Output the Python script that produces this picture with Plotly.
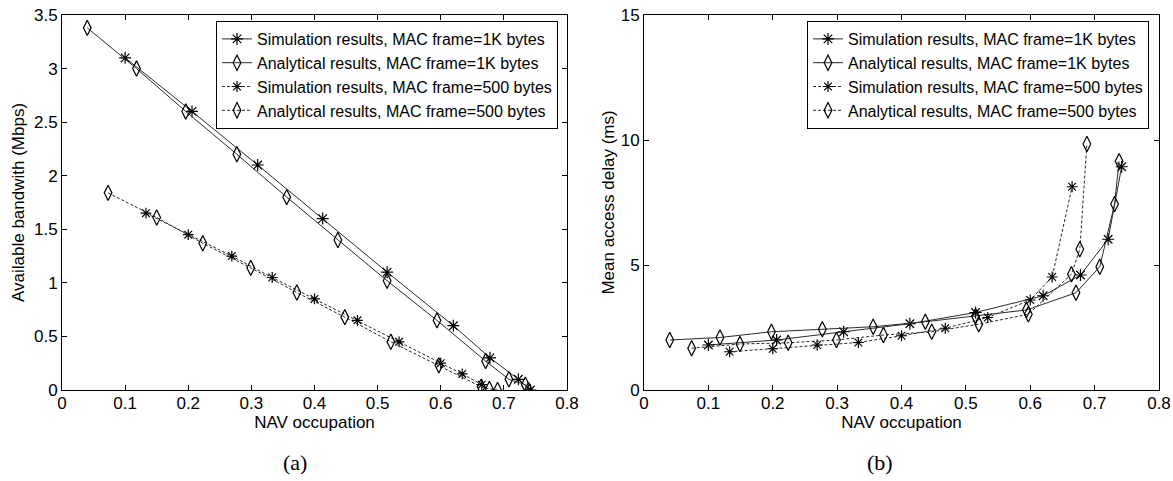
import plotly.graph_objects as go

# ---------------- data: panel (a) available bandwidth ----------------
a_sim1k_x = [0.10, 0.206, 0.31, 0.413, 0.515, 0.62, 0.678, 0.723, 0.742]
a_sim1k_y = [3.10, 2.60, 2.10, 1.60, 1.10, 0.60, 0.30, 0.10, 0.00]
a_ana1k_x = [0.04, 0.118, 0.196, 0.277, 0.356, 0.437, 0.515, 0.594, 0.671, 0.708, 0.734, 0.739]
a_ana1k_y = [3.38, 3.00, 2.60, 2.20, 1.80, 1.40, 1.02, 0.65, 0.27, 0.10, 0.05, 0.00]
a_sim500_x = [0.133, 0.20, 0.269, 0.333, 0.40, 0.468, 0.534, 0.60, 0.634, 0.665]
a_sim500_y = [1.65, 1.45, 1.25, 1.05, 0.85, 0.65, 0.45, 0.25, 0.15, 0.05]
a_ana500_x = [0.073, 0.15, 0.223, 0.299, 0.372, 0.448, 0.521, 0.597, 0.664, 0.677, 0.69]
a_ana500_y = [1.84, 1.61, 1.37, 1.14, 0.91, 0.68, 0.45, 0.23, 0.03, 0.01, 0.00]

# ---------------- data: panel (b) mean access delay ----------------
b_sim1k_x = [0.10, 0.206, 0.31, 0.413, 0.515, 0.62, 0.678, 0.721, 0.742]
b_sim1k_y = [1.80, 2.00, 2.33, 2.65, 3.10, 3.77, 4.60, 6.03, 8.93]
b_ana1k_x = [0.04, 0.118, 0.198, 0.277, 0.356, 0.437, 0.515, 0.594, 0.671, 0.708, 0.731, 0.738]
b_ana1k_y = [2.00, 2.10, 2.33, 2.43, 2.53, 2.73, 2.95, 3.20, 3.89, 4.93, 7.44, 9.15]
b_sim500_x = [0.133, 0.20, 0.269, 0.333, 0.40, 0.468, 0.534, 0.60, 0.634, 0.665]
b_sim500_y = [1.53, 1.65, 1.80, 1.90, 2.17, 2.47, 2.90, 3.60, 4.52, 8.13]
b_ana500_x = [0.074, 0.149, 0.224, 0.299, 0.372, 0.447, 0.52, 0.597, 0.664, 0.677, 0.688]
b_ana500_y = [1.67, 1.84, 1.89, 2.00, 2.20, 2.33, 2.63, 3.03, 4.63, 5.63, 9.84]

names = [
    "Simulation results, MAC frame=1K bytes",
    "Analytical results, MAC frame=1K bytes",
    "Simulation results, MAC frame=500 bytes",
    "Analytical results, MAC frame=500 bytes",
]

x_ticks = [0, 0.1, 0.2, 0.3, 0.4, 0.5, 0.6, 0.7, 0.8]
x_ticktext = ["0", "0.1", "0.2", "0.3", "0.4", "0.5", "0.6", "0.7", "0.8"]
a_yticks = [0, 0.5, 1, 1.5, 2, 2.5, 3, 3.5]
a_yticktext = ["0", "0.5", "1", "1.5", "2", "2.5", "3", "3.5"]
b_yticks = [0, 5, 10, 15]
b_yticktext = ["0", "5", "10", "15"]

FONT = "Liberation Sans, Arial, sans-serif"
LINE = "#2a2a2a"

fig = go.Figure()

styles = [
    dict(dash="solid", symbol="asterisk-open", size=10),
    dict(dash="solid", symbol="diamond-tall-open", size=11),
    dict(dash="3px,2px", symbol="asterisk-open", size=9),
    dict(dash="3px,2px", symbol="diamond-tall-open", size=11),
]

panel_a = [(a_sim1k_x, a_sim1k_y), (a_ana1k_x, a_ana1k_y), (a_sim500_x, a_sim500_y), (a_ana500_x, a_ana500_y)]
panel_b = [(b_sim1k_x, b_sim1k_y), (b_ana1k_x, b_ana1k_y), (b_sim500_x, b_sim500_y), (b_ana500_x, b_ana500_y)]

for i, (xs, ys) in enumerate(panel_a):
    st = styles[i]
    fig.add_trace(go.Scatter(
        x=xs, y=ys, mode="lines+markers", name=names[i],
        xaxis="x", yaxis="y", legend="legend",
        line=dict(color=LINE, width=1, dash=st["dash"]),
        marker=dict(symbol=st["symbol"], size=st["size"], color="black",
                    line=dict(color="black", width=1.2)),
    ))
for i, (xs, ys) in enumerate(panel_b):
    st = styles[i]
    fig.add_trace(go.Scatter(
        x=xs, y=ys, mode="lines+markers", name=names[i],
        xaxis="x2", yaxis="y2", legend="legend2",
        line=dict(color=LINE, width=1, dash=st["dash"]),
        marker=dict(symbol=st["symbol"], size=st["size"], color="black",
                    line=dict(color="black", width=1.2)),
    ))

W, H = 1173, 481
ML, MR, MT, MB = 62, 14, 15, 91
PW = W - ML - MR

axis_common = dict(
    showline=True, linecolor="black", linewidth=1, mirror="ticks",
    ticks="inside", ticklen=5, tickcolor="black", tickwidth=1,
    showgrid=False, zeroline=False,
    tickfont=dict(family=FONT, size=17, color="black"),
    automargin=False,
)
xaxis_extra = dict(ticklabelstandoff=-2)

TITLE_FONT = dict(family=FONT, size=17, color="black")

legend_common = dict(
    bgcolor="white", bordercolor="black", borderwidth=1,
    font=dict(family=FONT, size=16, color="black"),
    xanchor="right", yanchor="top", tracegroupgap=0,
    itemwidth=30,
)

fig.update_layout(
    width=W, height=H,
    template="none",
    paper_bgcolor="white", plot_bgcolor="white",
    margin=dict(l=ML, r=MR, t=MT, b=MB),
    xaxis=dict(axis_common, **xaxis_extra, domain=[0, (567 - ML) / PW], range=[0, 0.8],
               tickvals=x_ticks, ticktext=x_ticktext, anchor="y",
               title=dict(text="NAV occupation", font=TITLE_FONT, standoff=3)),
    yaxis=dict(axis_common, domain=[0, 1], range=[0, 3.5],
               tickvals=a_yticks, ticktext=a_yticktext, anchor="x",
               title=dict(text="Available bandwith (Mbps)", font=TITLE_FONT, standoff=5)),
    xaxis2=dict(axis_common, **xaxis_extra, domain=[(644 - ML) / PW, 1], range=[0, 0.8],
                tickvals=x_ticks, ticktext=x_ticktext, anchor="y2",
                title=dict(text="NAV occupation", font=TITLE_FONT, standoff=3)),
    yaxis2=dict(axis_common, domain=[0, 1], range=[0, 15],
                tickvals=b_yticks, ticktext=b_yticktext, anchor="x2",
                title=dict(text="Mean access delay (ms)", font=TITLE_FONT, standoff=1)),
    legend=dict(legend_common, x=(558 - ML) / PW, y=(390 - 21) / 375),
    legend2=dict(legend_common, x=(1149 - ML) / PW, y=(390 - 21) / 375),
    annotations=[
        dict(text="(a)", x=(295 - ML) / PW, y=(390 - 463) / 375, xref="paper", yref="paper",
             xanchor="center", yanchor="middle", showarrow=False,
             font=dict(family="Liberation Serif, Times New Roman, serif", size=22, color="black")),
        dict(text="(b)", x=(880 - ML) / PW, y=(390 - 463) / 375, xref="paper", yref="paper",
             xanchor="center", yanchor="middle", showarrow=False,
             font=dict(family="Liberation Serif, Times New Roman, serif", size=22, color="black")),
    ],
)

fig.write_html(
    "out.html",
    config={"displayModeBar": False},
    post_script="document.body.style.margin='0';document.body.style.overflow='hidden';",
)
